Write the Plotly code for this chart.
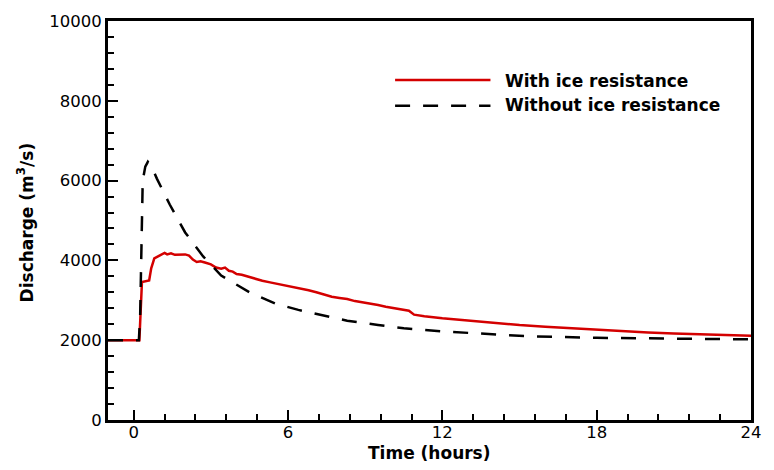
import plotly.graph_objects as go

# Without ice resistance (dashed black)
t_without = [-1, 0.2, 0.25, 0.3, 0.35, 0.45, 0.55, 0.7, 0.9, 1.4, 2.0, 2.7, 3.4, 4.5, 5.5,
             6.4, 7.5, 8.3, 9.5, 10.5, 12, 13, 15.3, 18, 20.5, 24]
q_without = [2000, 2000, 2600, 4500, 6000, 6350, 6470, 6350, 6050, 5400, 4700, 4100, 3620, 3200, 2920,
             2760, 2600, 2490, 2380, 2300, 2220, 2180, 2100, 2060, 2040, 2020]

# With ice resistance (solid red)
t_with = [-1, 0.22, 0.32, 0.45, 0.6, 0.68, 0.8, 1.0, 1.2, 1.3, 1.45, 1.6, 1.8, 2.0, 2.15, 2.3, 2.45,
          2.6, 2.8, 3.0, 3.2, 3.4, 3.55, 3.7, 3.85, 4.0, 4.2, 4.4, 4.6, 4.8, 5.0, 5.3, 5.6, 5.9,
          6.2, 6.5, 6.8, 7.1, 7.4, 7.7, 8.0, 8.3, 8.6, 8.9, 9.2, 9.5, 9.8, 10.1, 10.5, 10.7, 10.9,
          11.3, 12, 13, 14, 15, 16, 17, 18, 19, 20, 21, 22, 23, 24]
q_with = [2000, 2000, 3460, 3470, 3500, 3800, 4050, 4120, 4190, 4150, 4180, 4140, 4150, 4150, 4120,
          4020, 3960, 3980, 3940, 3900, 3820, 3790, 3820, 3740, 3720, 3660, 3640, 3600, 3560, 3520,
          3490, 3450, 3410, 3380, 3330, 3300, 3250, 3200, 3150, 3090, 3060, 3030, 2980, 2950, 2910,
          2880, 2840, 2810, 2770, 2740, 2640, 2600, 2550, 2490, 2430, 2380, 2340, 2300, 2260, 2225,
          2195, 2170, 2150, 2130, 2110]

x_ticks = [0, 6, 12, 18, 24]
x_ticktext = ["0", "6", "12", "18", "24"]
y_ticks = [0, 2000, 4000, 6000, 8000, 10000]
y_ticktext = ["0", "2000", "4000", "6000", "8000", "10000"]
labels = ["With ice resistance", "Without ice resistance"]

RED = "#d40000"
FONT = "DejaVu Sans, Arial, sans-serif"

fig = go.Figure()
fig.add_trace(go.Scatter(x=t_with, y=q_with, mode="lines", name=labels[0],
                         line=dict(color=RED, width=2.5)))
fig.add_trace(go.Scatter(x=t_without, y=q_without, mode="lines", name=labels[1],
                         line=dict(color="black", width=2.5, dash="15px,13px")))

L, R, T, B = 108, 12, 15, 50
W, H = 774, 470
pw, ph = W - L - R, H - T - B


def px(xp):
    return (xp - L) / pw


def py(yp):
    return (H - B - yp) / ph


# legend samples and texts
fig.add_shape(type="line", xref="paper", yref="paper", x0=px(400), x1=px(497), y0=py(75), y1=py(75),
              line=dict(color=RED, width=2.5))
fig.add_shape(type="line", xref="paper", yref="paper", x0=px(400), x1=px(497), y0=py(101), y1=py(101),
              line=dict(color="black", width=2.5, dash="15px,13px"))
for lab, yy in zip(labels, [76, 100]):
    fig.add_annotation(text="<b>" + lab + "</b>", xref="paper", yref="paper", x=px(510), y=py(yy),
                       xanchor="left", yanchor="middle", showarrow=False,
                       font=dict(family=FONT, size=17, color="black"))

fig.add_annotation(text="<b>Time (hours)</b>", xref="paper", yref="paper", x=px(435), y=py(454),
                   xanchor="center", yanchor="middle", showarrow=False,
                   font=dict(family=FONT, size=17, color="black"))
fig.add_annotation(text="<b>Discharge (m<sup>3</sup>/s)</b>", xref="paper", yref="paper", x=px(24), y=py(219),
                   xanchor="center", yanchor="middle", showarrow=False, textangle=-90,
                   font=dict(family=FONT, size=17, color="black"))

fig.update_layout(
    width=W, height=H,
    margin=dict(l=L, r=R, t=T, b=B),
    plot_bgcolor="white", paper_bgcolor="white",
    showlegend=False,
    font=dict(family=FONT, size=16.5, color="black"),
)
fig.update_xaxes(range=[-1, 24], tickvals=x_ticks, ticktext=x_ticktext, ticks="inside", ticklen=10,
                 tickwidth=2, tickcolor="black", showline=True, linecolor="black", linewidth=3, mirror=True,
                 showgrid=False, zeroline=False, ticklabelstandoff=-5,
                 minor=dict(tick0=0, dtick=1.2, ticks="inside", ticklen=6, tickwidth=1.5, tickcolor="black"))
fig.update_yaxes(range=[0, 10000], tickvals=y_ticks, ticktext=y_ticktext, ticks="inside", ticklen=10,
                 tickwidth=2, tickcolor="black", showline=True, linecolor="black", linewidth=3, mirror=True,
                 showgrid=False, zeroline=False,
                 minor=dict(tick0=0, dtick=400, ticks="inside", ticklen=6, tickwidth=1.5, tickcolor="black"))

fig.write_html("out.html")
